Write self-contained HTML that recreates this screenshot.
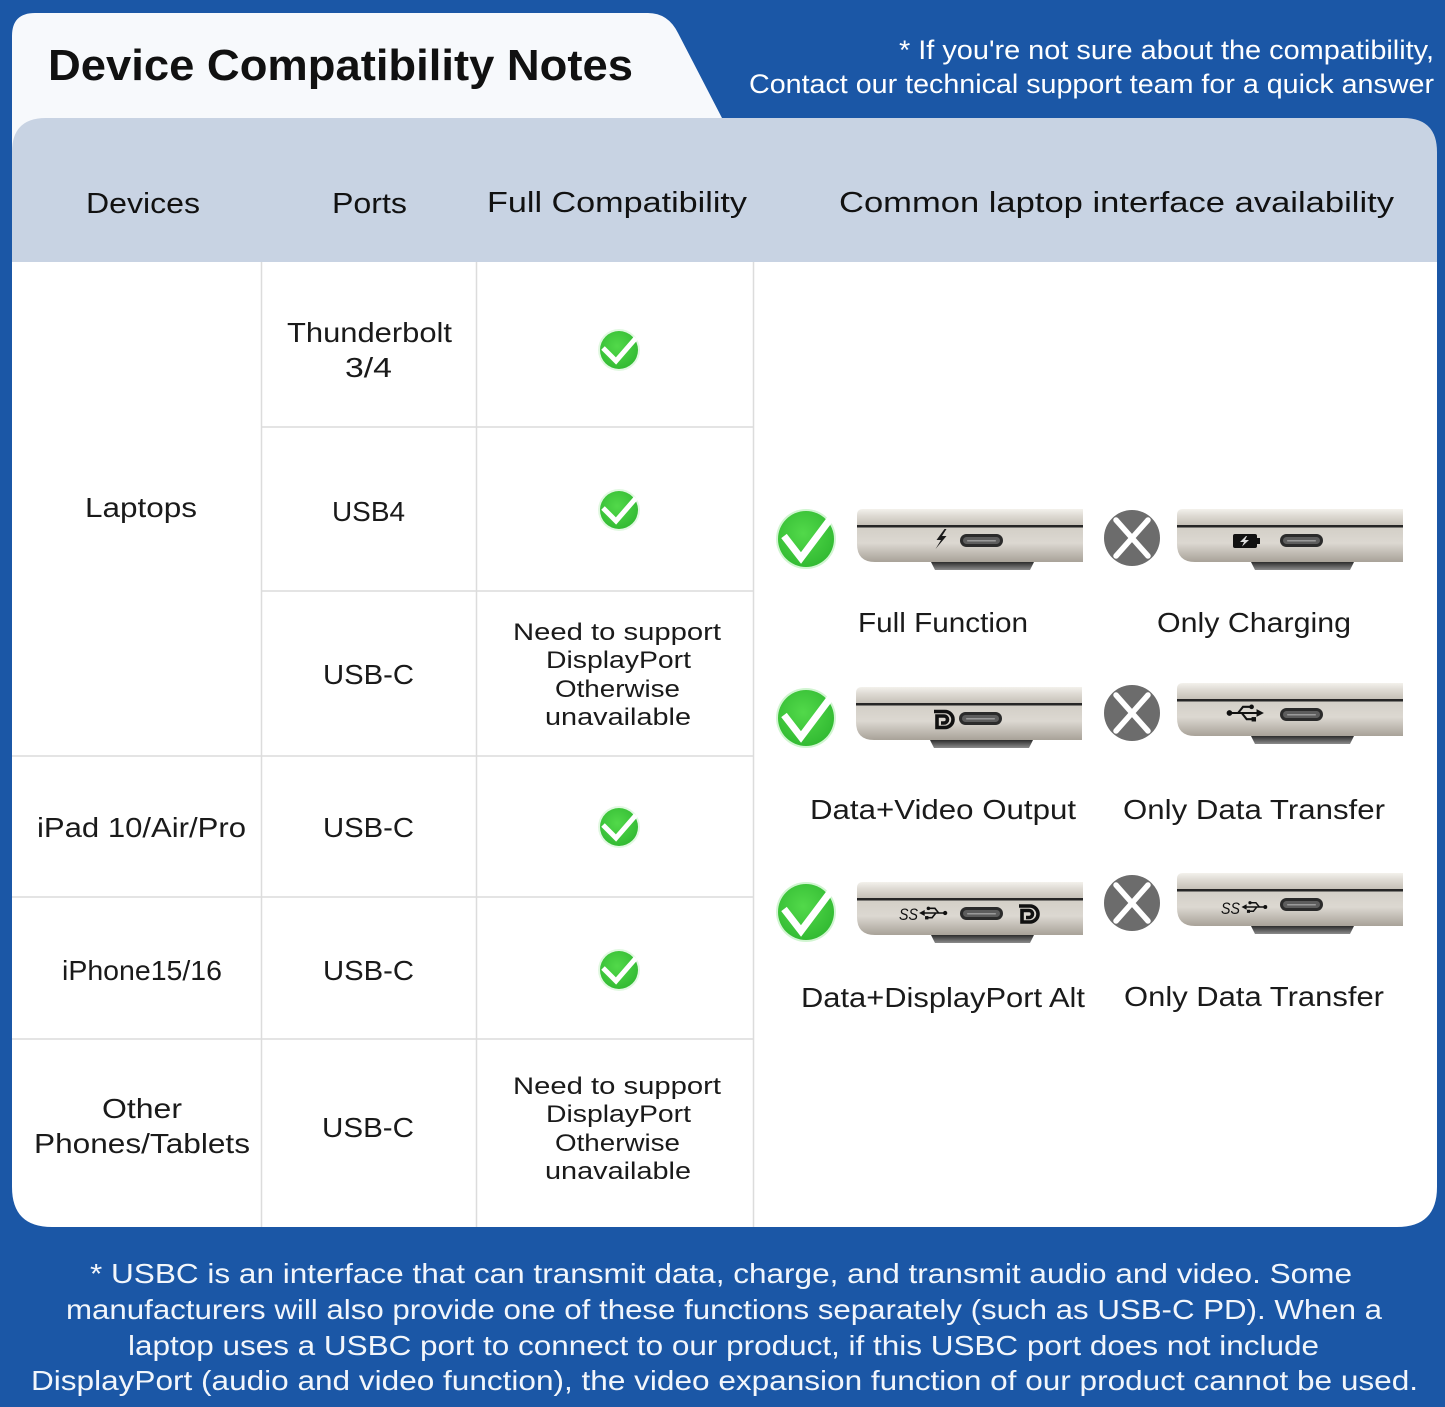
<!DOCTYPE html>
<html><head><meta charset="utf-8">
<style>
html,body{margin:0;padding:0;background:#1b57a6;}
svg{display:block;}
text{font-family:"Liberation Sans",sans-serif;}
</style></head>
<body>
<svg width="1445" height="1407" viewBox="0 0 1445 1407" xmlns="http://www.w3.org/2000/svg">
<defs>
  <linearGradient id="lid" x1="0" y1="0" x2="0" y2="1">
    <stop offset="0" stop-color="#f3f1ec"/>
    <stop offset="0.4" stop-color="#dedad3"/>
    <stop offset="1" stop-color="#c3beb5"/>
  </linearGradient>
  <linearGradient id="bod" x1="0" y1="0" x2="0" y2="1">
    <stop offset="0" stop-color="#d3cfc7"/>
    <stop offset="0.45" stop-color="#dcd8d1"/>
    <stop offset="1" stop-color="#a8a298"/>
  </linearGradient>
  <linearGradient id="foot" x1="0" y1="0" x2="0" y2="1">
    <stop offset="0" stop-color="#2c2c2c"/>
    <stop offset="1" stop-color="#8c8c8c"/>
  </linearGradient>
  <radialGradient id="grn" cx="0.45" cy="0.4" r="0.6">
    <stop offset="0" stop-color="#52d94a"/>
    <stop offset="1" stop-color="#33bb33"/>
  </radialGradient>
  <g id="lap">
    <path d="M6,0 H226 V17 H0 V6 Q0,0 6,0 Z" fill="url(#lid)"/>
    <rect x="0" y="16" width="226" height="2.5" fill="#262626"/>
    <path d="M0,18.5 H226 V53 H18 Q0,53 0,35 Z" fill="url(#bod)"/>
    <path d="M74,53 H177 L173,61 H78 Z" fill="url(#foot)"/>
    <rect x="103" y="25" width="43" height="13" rx="6.5" fill="#2b2b2b"/>
    <rect x="106" y="28" width="37" height="7" rx="3.5" fill="#5d5d5d"/>
    <rect x="110" y="31" width="29" height="1.5" rx="0.75" fill="#9a9a9a"/>
  </g>
  <g id="tri" fill="#111">
    <circle cx="2" cy="0" r="2.3"/>
    <path d="M2,0 H27" stroke="#111" stroke-width="1.7" fill="none"/>
    <path d="M30,0 L24,-3.2 L24,3.2 Z"/>
    <path d="M9,0 L13,-5 H19" stroke="#111" stroke-width="1.7" fill="none"/>
    <circle cx="20" cy="-5" r="1.9"/>
    <path d="M12,0 L16,5 H21" stroke="#111" stroke-width="1.7" fill="none"/>
    <rect x="20" y="3.3" width="3.6" height="3.6"/>
  </g>
  <g id="bigchk">
    <circle cx="0" cy="0" r="30" fill="#7be27a" opacity="0.35"/>
    <circle cx="0" cy="0" r="28" fill="url(#grn)"/>
    <polyline points="-22,-3 -5,19 25,-21" fill="none" stroke="#fff" stroke-width="7" stroke-linejoin="miter"/>
  </g>
  <g id="smchk">
    <circle cx="0" cy="0" r="21" fill="#9be89a" opacity="0.3"/>
    <circle cx="0" cy="0" r="19" fill="url(#grn)"/>
    <polyline points="-16,-2 -3,11 17,-12" fill="none" stroke="#fff" stroke-width="5"/>
  </g>
  <g id="xc">
    <circle cx="0" cy="0" r="28" fill="#6c6c6c"/>
    <path d="M-16,-18 L16,18 M16,-18 L-16,18" stroke="#fff" stroke-width="5.5" stroke-linecap="round"/>
  </g>
</defs>

<!-- background -->
<rect x="0" y="0" width="1445" height="1407" fill="#1b57a6"/>

<!-- tab -->
<path d="M12,36 Q12,13 35,13 L648,13 Q668,13 678,33 L722,118 L722,170 L12,170 Z" fill="#f7f9fc"/>
<text x="48" y="80" font-size="44" font-weight="bold" fill="#111" textLength="585" lengthAdjust="spacingAndGlyphs">Device Compatibility Notes</text>

<!-- top right note -->
<text x="899" y="59" font-size="27" fill="#fff" textLength="535" lengthAdjust="spacingAndGlyphs">* If you're not sure about the compatibility,</text>
<text x="749" y="93" font-size="27" fill="#fff" textLength="685" lengthAdjust="spacingAndGlyphs">Contact our technical support team for a quick answer</text>

<!-- header -->
<path d="M12,262 V152 Q12,118 46,118 H1403 Q1437,118 1437,152 V262 Z" fill="#c8d3e3"/>
<text x="86" y="213" font-size="29" fill="#111" textLength="114" lengthAdjust="spacingAndGlyphs">Devices</text>
<text x="332" y="213" font-size="29" fill="#111" textLength="75" lengthAdjust="spacingAndGlyphs">Ports</text>
<text x="487" y="212" font-size="29" fill="#111" textLength="260" lengthAdjust="spacingAndGlyphs">Full Compatibility</text>
<text x="839" y="212" font-size="29" fill="#111" textLength="555" lengthAdjust="spacingAndGlyphs">Common laptop interface availability</text>

<!-- body -->
<path d="M12,262 H1437 V1187 Q1437,1227 1397,1227 H52 Q12,1227 12,1187 Z" fill="#ffffff"/>

<!-- grid lines -->
<g stroke="#dcdcdc" stroke-width="1.5">
  <line x1="261.5" y1="262" x2="261.5" y2="1227"/>
  <line x1="476.5" y1="262" x2="476.5" y2="1227"/>
  <line x1="753.5" y1="262" x2="753.5" y2="1227"/>
  <line x1="261" y1="427" x2="753" y2="427"/>
  <line x1="261" y1="591" x2="753" y2="591"/>
  <line x1="12" y1="756" x2="753" y2="756"/>
  <line x1="12" y1="897" x2="753" y2="897"/>
  <line x1="12" y1="1039" x2="753" y2="1039"/>
</g>

<!-- table text -->
<g font-size="28" fill="#1a1a1a">
  <text x="287" y="342" textLength="165" lengthAdjust="spacingAndGlyphs">Thunderbolt</text>
  <text x="345" y="377" textLength="47" lengthAdjust="spacingAndGlyphs">3/4</text>
  <text x="85" y="517" textLength="112" lengthAdjust="spacingAndGlyphs">Laptops</text>
  <text x="332" y="521" textLength="73" lengthAdjust="spacingAndGlyphs">USB4</text>
  <text x="323" y="684" textLength="91" lengthAdjust="spacingAndGlyphs">USB-C</text>
  <text x="37" y="837" textLength="209" lengthAdjust="spacingAndGlyphs">iPad 10/Air/Pro</text>
  <text x="323" y="837" textLength="91" lengthAdjust="spacingAndGlyphs">USB-C</text>
  <text x="62" y="980" textLength="160" lengthAdjust="spacingAndGlyphs">iPhone15/16</text>
  <text x="323" y="980" textLength="91" lengthAdjust="spacingAndGlyphs">USB-C</text>
  <text x="102" y="1118" textLength="80" lengthAdjust="spacingAndGlyphs">Other</text>
  <text x="34" y="1153" textLength="216" lengthAdjust="spacingAndGlyphs">Phones/Tablets</text>
  <text x="322" y="1137" textLength="92" lengthAdjust="spacingAndGlyphs">USB-C</text>
</g>
<g font-size="24" fill="#1a1a1a">
  <text x="513" y="640" textLength="208" lengthAdjust="spacingAndGlyphs">Need to support</text>
  <text x="546" y="668" textLength="145" lengthAdjust="spacingAndGlyphs">DisplayPort</text>
  <text x="555" y="697" textLength="125" lengthAdjust="spacingAndGlyphs">Otherwise</text>
  <text x="545" y="725" textLength="146" lengthAdjust="spacingAndGlyphs">unavailable</text>
  <text x="513" y="1094" textLength="208" lengthAdjust="spacingAndGlyphs">Need to support</text>
  <text x="546" y="1122" textLength="145" lengthAdjust="spacingAndGlyphs">DisplayPort</text>
  <text x="555" y="1151" textLength="125" lengthAdjust="spacingAndGlyphs">Otherwise</text>
  <text x="545" y="1179" textLength="146" lengthAdjust="spacingAndGlyphs">unavailable</text>
</g>

<!-- small checks -->
<use href="#smchk" x="619" y="350"/>
<use href="#smchk" x="619" y="510"/>
<use href="#smchk" x="619" y="827"/>
<use href="#smchk" x="619" y="970"/>

<!-- right column: checks / crosses -->
<use href="#bigchk" x="806" y="539"/>
<use href="#bigchk" x="806" y="718"/>
<use href="#bigchk" x="806" y="912"/>
<use href="#xc" x="1132" y="538"/>
<use href="#xc" x="1132" y="713"/>
<use href="#xc" x="1132" y="903"/>

<!-- laptops -->
<use href="#lap" x="857" y="509"/>
<use href="#lap" x="1177" y="509"/>
<use href="#lap" x="856" y="687"/>
<use href="#lap" x="1177" y="683"/>
<use href="#lap" x="857" y="882"/>
<use href="#lap" x="1177" y="873"/>

<!-- icons row 1 -->
<path d="M944.5,529 L936.5,540 L941,540 L935.5,549 L946.5,536 L942,536 L946.5,529 Z" fill="#1a1a1a"/>
<rect x="1233" y="534" width="24" height="14" rx="2" fill="#111"/>
<rect x="1257" y="538" width="3" height="6" fill="#111"/>
<path d="M1246,536 L1240,542 L1244,542 L1242,546.5 L1249,540 L1245,540 L1247,536 Z" fill="#ddd"/>

<!-- icons row 2 -->
<path d="M934,711.5 H945 A8,8 0 0 1 945,727.5 H937 V716 H944 A3,3 0 0 1 944,723 H941" fill="none" stroke="#111" stroke-width="3.6"/>
<use href="#tri" transform="translate(1227,713) scale(1.23)"/>

<!-- icons row 3 -->
<text x="899" y="920" font-size="17" font-style="italic" font-family="Liberation Serif, serif" fill="#111" textLength="19" lengthAdjust="spacingAndGlyphs">SS</text>
<use href="#tri" transform="translate(947,913) scale(-0.93,0.93)"/>
<path d="M1019,906 H1030 A8,8 0 0 1 1030,922 H1022 V910.5 H1029 A3,3 0 0 1 1029,917.5 H1026" fill="none" stroke="#111" stroke-width="3.6"/>
<text x="1221" y="914" font-size="17" font-style="italic" font-family="Liberation Serif, serif" fill="#111" textLength="19" lengthAdjust="spacingAndGlyphs">SS</text>
<use href="#tri" transform="translate(1267,907) scale(-0.85,0.85)"/>

<!-- right labels -->
<g font-size="28" fill="#1a1a1a">
  <text x="858" y="632" textLength="170" lengthAdjust="spacingAndGlyphs">Full Function</text>
  <text x="1157" y="632" textLength="194" lengthAdjust="spacingAndGlyphs">Only Charging</text>
  <text x="810" y="819" textLength="266" lengthAdjust="spacingAndGlyphs">Data+Video Output</text>
  <text x="1123" y="819" textLength="262" lengthAdjust="spacingAndGlyphs">Only Data Transfer</text>
  <text x="801" y="1007" textLength="284" lengthAdjust="spacingAndGlyphs">Data+DisplayPort Alt</text>
  <text x="1124" y="1006" textLength="260" lengthAdjust="spacingAndGlyphs">Only Data Transfer</text>
</g>

<!-- footer -->
<g font-size="28" fill="#f2f6fb">
  <text x="90" y="1283" textLength="1262" lengthAdjust="spacingAndGlyphs">* USBC is an interface that can transmit data, charge, and transmit audio and video. Some</text>
  <text x="66" y="1319" textLength="1316" lengthAdjust="spacingAndGlyphs">manufacturers will also provide one of these functions separately (such as USB-C PD).  When a</text>
  <text x="128" y="1355" textLength="1191" lengthAdjust="spacingAndGlyphs">laptop uses a USBC port to connect to our product, if this USBC port does not include</text>
  <text x="31" y="1390" textLength="1387" lengthAdjust="spacingAndGlyphs">DisplayPort (audio and video function), the video expansion function of our product cannot be used.</text>
</g>
</svg>
</body></html>
